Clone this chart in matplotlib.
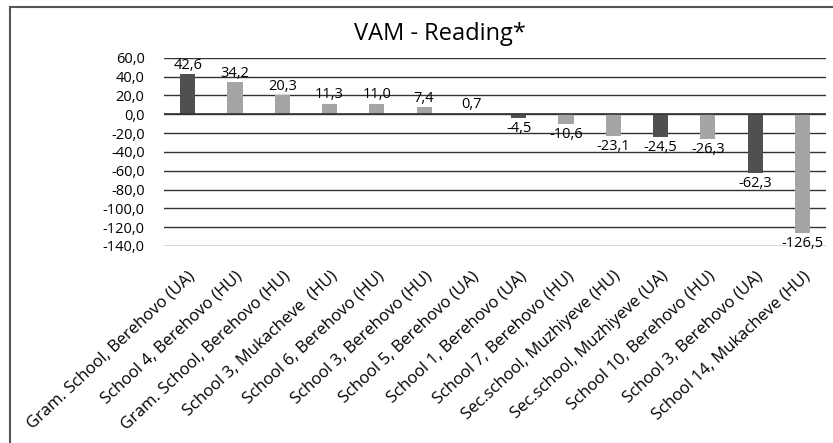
import matplotlib.pyplot as plt
from matplotlib.lines import Line2D

plt.rcParams['font.family'] = ['Open Sans', 'DejaVu Sans']

# schools, ordered as in the chart
schools = ['Gram. School, Berehovo (UA)', 'School 4, Berehovo (HU)',
           'Gram. School, Berehovo (HU)', 'School 3, Mukacheve  (HU)',
           'School 6, Berehovo (HU)', 'School 3, Berehovo (HU)',
           'School 5, Berehovo (UA)', 'School 1, Berehovo (UA)',
           'School 7, Berehovo (HU)', 'Sec.school, Muzhiyeve (HU)',
           'Sec.school, Muzhiyeve (UA)', 'School 10, Berehovo (HU)',
           'School 3, Berehovo (UA)', 'School 14, Mukacheve (HU)']
vam = [42.6, 34.2, 20.3, 11.3, 11.0, 7.4, 0.7, -4.5, -10.6, -23.1, -24.5, -26.3, -62.3, -126.5]
y_ticks = [60, 40, 20, 0, -20, -40, -60, -80, -100, -120, -140]

dark = '#505050'
light = '#a5a5a5'
colors = [dark if s.endswith('(UA)') else light for s in schools]

fig = plt.figure(figsize=(8.33, 4.43), dpi=100)
ax = fig.add_axes([0.1969, 0.4447, 0.7947, 0.4251])

x = range(len(schools))
ax.bar(x, vam, width=0.32, color=colors, zorder=3)
ax.set_xlim(-0.5, len(schools) - 0.5)
ax.set_ylim(-140, 60)
ax.set_yticks(y_ticks)
ax.set_yticklabels([f'{v:.1f}'.replace('.', ',') for v in y_ticks], fontsize=10.5)
ax.grid(axis='y', color='#333333', linewidth=1, zorder=1)
ax.axhline(0, color='#333333', linewidth=1.2, zorder=4)
for s in ax.spines.values():
    s.set_visible(False)
ax.tick_params(axis='y', length=0, pad=14)

ax.set_xticks(list(x))
ax.set_xticklabels(schools, rotation=43, ha='right', rotation_mode='anchor', fontsize=12)
ax.tick_params(axis='x', length=0, pad=16)

for i, v in zip(x, vam):
    txt = f'{v:.1f}'.replace('.', ',')
    if v >= 0:
        ax.annotate(txt, (i, v), xytext=(0, 1), textcoords='offset points',
                    ha='center', va='bottom', fontsize=10.5, zorder=5)
    else:
        ax.annotate(txt, (i, v), xytext=(0, -2), textcoords='offset points',
                    ha='center', va='top', fontsize=10.5, zorder=5)

fig.text(440 / 833, 1 - 34 / 443, 'VAM - Reading*', ha='center', va='center', fontsize=17)

# chart frame (only top and left edges visible in the crop)
fig.add_artist(Line2D([10 / 833, 10 / 833], [0, 1 - 7 / 443], transform=fig.transFigure,
                      color='#555555', linewidth=1.5))
fig.add_artist(Line2D([10 / 833, 1], [1 - 7 / 443, 1 - 7 / 443], transform=fig.transFigure,
                      color='#555555', linewidth=1.5))

fig.savefig('out.png', dpi=100)
